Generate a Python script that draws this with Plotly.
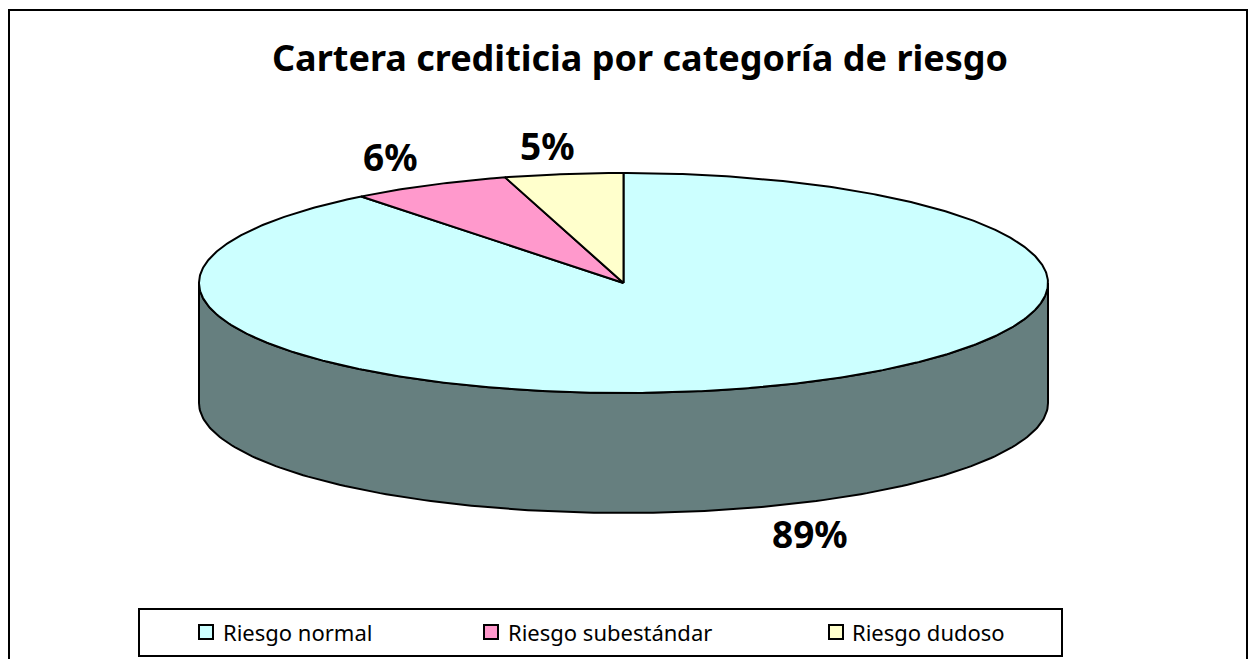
import numpy as np
import plotly.graph_objects as go

# Data
categories = ["Riesgo normal", "Riesgo subestándar", "Riesgo dudoso"]
values = [89.4, 6.1, 4.5]
value_labels = ["89%", "6%", "5%"]
title_text = "Cartera crediticia por categoría de riesgo"

# Style
slice_colors = ["#CCFFFF", "#FF99CC", "#FFFFCC"]
wall_color = "#667F7F"
FONT = "Noto Sans"
W, H = 1256, 659
CX, CY, RX, RY, DEPTH = 623.5, 283, 424.5, 110, 120
label_shift = [(48, 27), (-39, -29), (-16, -29)]
legend_swatch_x = [206, 491, 836]
legend_text_x = [221, 506, 850]


def rim(a):
    """Point on the top ellipse, angle clockwise from 12 o'clock (degrees)."""
    r = np.radians(a)
    return CX + RX * np.sin(r), CY - RY * np.cos(r)


fig = go.Figure()

# Side wall (front half of the cylinder)
front = np.linspace(90, 270, 181)
tx, ty = rim(front)
fig.add_trace(go.Scatter(
    x=np.r_[tx, tx[::-1], tx[0]], y=np.r_[ty, ty[::-1] + DEPTH, ty[0]],
    mode="lines", fill="toself", fillcolor=wall_color,
    line=dict(color="black", width=2), hoverinfo="skip", showlegend=False))

# Top slices: clockwise from 12 o'clock
start = 0.0
total = sum(values)
for name, v, color, text, shift in zip(categories, values, slice_colors, value_labels, label_shift):
    end = start + 360 * v / total
    ang = np.linspace(start, end, max(int(end - start) * 2, 2) + 1)
    sx, sy = rim(ang)
    fig.add_trace(go.Scatter(
        x=np.r_[CX, sx, CX], y=np.r_[CY, sy, CY],
        mode="lines", fill="toself", fillcolor=color,
        line=dict(color="black", width=2), name=name,
        hoverinfo="name", showlegend=False))
    mid = (start + end) / 2
    lx, ly = rim(mid)
    if 90 < mid < 270:
        ly += DEPTH
    fig.add_annotation(x=float(lx), y=float(ly), text=f"<b>{text}</b>", showarrow=False,
                       xshift=shift[0], yshift=-shift[1],
                       font=dict(family=FONT, size=37, color="black"))
    start = end

# Legend entries
LEG_Y = 632
fig.add_trace(go.Scatter(
    x=legend_swatch_x, y=[LEG_Y] * 3, mode="markers",
    marker=dict(symbol="square", size=14, color=slice_colors, line=dict(color="black", width=2)),
    hoverinfo="skip", showlegend=False))
for name, x in zip(categories, legend_text_x):
    fig.add_annotation(x=x, y=LEG_Y, text=name, showarrow=False, xanchor="left",
                       font=dict(family=FONT, size=22, color="black"))

fig.add_annotation(x=639.5, y=57, text=f"<b>{title_text}</b>", showarrow=False,
                   font=dict(family=FONT, size=36, color="black"))

fig.update_layout(
    width=W, height=H, margin=dict(l=0, r=0, t=0, b=0),
    paper_bgcolor="white", plot_bgcolor="white", showlegend=False,
    xaxis=dict(range=[0, W], visible=False, fixedrange=True),
    yaxis=dict(range=[H, 0], visible=False, fixedrange=True),
    shapes=[
        dict(type="rect", x0=9, y0=10, x1=1247, y1=H + 10, line=dict(color="black", width=2), layer="below"),
        dict(type="rect", x0=139, y0=609, x1=1062, y1=656, line=dict(color="black", width=2), layer="below"),
    ],
)
fig.write_html("out.html", config=dict(displayModeBar=False),
               post_script="document.body.style.margin='0';document.documentElement.style.overflow='hidden';")
